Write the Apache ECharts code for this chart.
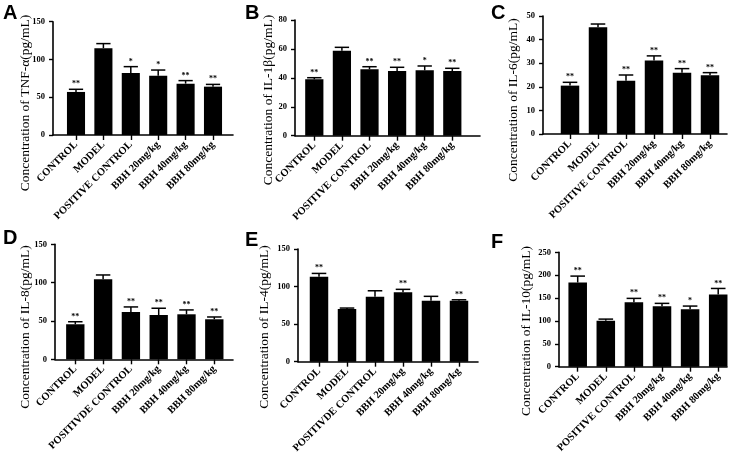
<!DOCTYPE html>
<html><head><meta charset="utf-8">
<script src="https://cdn.jsdelivr.net/npm/echarts@6/dist/echarts.min.js"></script>
<style>html,body{margin:0;padding:0;background:#fff}#c{width:740px;height:462px}</style>
</head><body><div id="c"></div>
<script>
// ---- data ----
const categoriesA = ['CONTROL','MODEL','POSITIVE CONTROL','BBH 20mg/kg','BBH 40mg/kg','BBH 80mg/kg'];
const categoriesB = ['CONTROL','MODEL','POSITIVDE CONTROL','BBH 20mg/kg','BBH 40mg/kg','BBH 80mg/kg'];

const tnfMean = [57, 115, 82, 78.5, 68, 64];
const tnfErr  = [3.5, 6, 8.5, 7.5, 4, 3];
const tnfSig  = ['**', '', '*', '*', '**', '**'];

const il1Mean = [39, 58.8, 45.9, 44.7, 45.2, 44.7];
const il1Err  = [1.1, 2.3, 1.8, 2.6, 3, 1.9];
const il1Sig  = ['**', '', '**', '**', '*', '**'];

const il6Mean = [20.5, 45.2, 22.6, 31.1, 26, 24.9];
const il6Err  = [1.4, 1.4, 2.4, 2, 1.7, 1.1];
const il6Sig  = ['**', '', '**', '**', '**', '**'];

const il8Mean = [45.7, 104.4, 61.7, 57.8, 58.7, 52.2];
const il8Err  = [3.3, 5.6, 6.6, 8.8, 5.7, 3];
const il8Sig  = ['**', '', '**', '**', '**', '**'];

const il4Mean = [113, 70, 86.4, 92.3, 81.1, 81.1];
const il4Err  = [4.5, 1.4, 8, 4, 5.9, 1.3];
const il4Sig  = ['**', '', '', '**', '', '**'];

const il10Mean = [184, 100.4, 140.6, 131.9, 125.3, 158];
const il10Err  = [14, 3.6, 8.7, 6.5, 7.2, 13];
const il10Sig  = ['**', '', '**', '**', '*', '**'];

const yMaxes = [150, 80, 50, 150, 150, 250];
const yIntervals = [50, 20, 10, 50, 50, 50];
const axisTitles = ['Concentration of TNF-\u03b1(pg/mL)','Concentration of IL-1\u03b2(pg/mL)','Concentration of IL-6(pg/mL)',
                    'Concentration of IL-8(pg/mL)','Concentration of IL-4(pg/mL)','Concentration of IL-10(pg/mL)'];
const panelLetters = ['A','B','C','D','E','F'];

// ---- layout ----
const panels = [
  {cats: categoriesA, mean: tnfMean, err: tnfErr, sig: tnfSig, x0: 53, x1: 233, top: 21.7, zero: 135, c0: 76, sp: 27.4, tx: 25, ty: 103, lx: 3, ly: 3},
  {cats: categoriesA, mean: il1Mean, err: il1Err, sig: il1Sig, x0: 295, x1: 480, top: 20, zero: 135.7, c0: 314.3, sp: 27.6, tx: 268, ty: 100, lx: 245, ly: 3},
  {cats: categoriesA, mean: il6Mean, err: il6Err, sig: il6Sig, x0: 543, x1: 727, top: 16, zero: 134, c0: 570, sp: 28, tx: 513, ty: 100, lx: 491, ly: 3},
  {cats: categoriesB, mean: il8Mean, err: il8Err, sig: il8Sig, x0: 55, x1: 233, top: 244.3, zero: 359.3, c0: 75.3, sp: 27.8, tx: 25, ty: 327, lx: 3, ly: 228},
  {cats: categoriesB, mean: il4Mean, err: il4Err, sig: il4Sig, x0: 298, x1: 478, top: 249, zero: 361.7, c0: 319, sp: 28, tx: 264, ty: 327, lx: 245, ly: 230},
  {cats: categoriesA, mean: il10Mean, err: il10Err, sig: il10Sig, x0: 559, x1: 727, top: 252.3, zero: 366.7, c0: 577.7, sp: 28.1, tx: 526, ty: 331, lx: 491, ly: 232}
];

const grid = [], xAxis = [], yAxis = [], series = [], graphic = [];
const serif = 'Liberation Serif';
panels.forEach((p, i) => {
  const h = p.zero - p.top;
  grid.push({left: p.x0, top: p.top, width: p.x1 - p.x0, height: h});
  grid.push({left: p.c0 - p.sp / 2, top: p.top, width: p.sp * 6, height: h});
  const gF = 2 * i, gB = 2 * i + 1;
  xAxis.push({gridIndex: gF, type: 'value', min: 0, max: 1, axisLine: {show: true, onZero: false, lineStyle: {color: '#000', width: 1.6}},
              axisTick: {show: false}, axisLabel: {show: false}, splitLine: {show: false}});
  yAxis.push({gridIndex: gF, type: 'value', min: 0, max: yMaxes[i], interval: yIntervals[i],
              axisLine: {show: true, lineStyle: {color: '#000', width: 1.6}},
              axisTick: {show: true, length: 4, lineStyle: {color: '#000', width: 1.4}},
              axisLabel: {color: '#000', fontFamily: serif, fontWeight: 'bold', fontSize: 8.5, margin: 8},
              splitLine: {show: false}});
  xAxis.push({gridIndex: gB, type: 'category', data: p.cats, boundaryGap: true,
              axisLine: {show: false},
              axisTick: {show: true, alignWithLabel: true, length: 5, lineStyle: {color: '#000', width: 1.4}},
              axisLabel: {interval: 0, rotate: 45, color: '#000', fontFamily: serif, fontWeight: 'bold', fontSize: 10.5, margin: 8}});
  yAxis.push({gridIndex: gB, type: 'value', min: 0, max: yMaxes[i], show: false});
  series.push({type: 'bar', xAxisIndex: gB, yAxisIndex: gB, data: p.mean, barWidth: '66%',
               itemStyle: {color: '#000'}, silent: true, animation: false});
  series.push({type: 'custom', xAxisIndex: gB, yAxisIndex: gB, animation: false, silent: true,
    data: p.mean.map((m, k) => [k, m, p.err[k]]),
    renderItem: (params, api) => {
      const k = api.value(0), m = api.value(1), e = api.value(2);
      const s = p.sig[k];
      const pm = api.coord([k, m]), pt = api.coord([k, m + e]);
      const half = api.size([1, 0])[0] * 0.26;
      const st = {stroke: '#000', lineWidth: 1.5};
      const ch = [
        {type: 'line', shape: {x1: pm[0], y1: pm[1], x2: pt[0], y2: pt[1]}, style: st},
        {type: 'line', shape: {x1: pt[0] - half, y1: pt[1], x2: pt[0] + half, y2: pt[1]}, style: st}
      ];
      if (s) ch.push({type: 'text', style: {text: s, x: pt[0], y: pt[1] - 1, textAlign: 'center', textVerticalAlign: 'bottom',
                     fill: '#000', font: 'bold 8px "Liberation Serif"'}});
      return {type: 'group', children: ch};
    }});
  graphic.push({type: 'text', x: p.tx, y: p.ty, rotation: Math.PI / 2,
    style: {text: axisTitles[i], fill: '#000', font: '13.5px "Liberation Serif"', textAlign: 'center', textVerticalAlign: 'middle'}});
  graphic.push({type: 'text', left: p.lx, top: p.ly,
    style: {text: panelLetters[i], fill: '#000', font: 'bold 20px "Liberation Sans"'}});
});

const chart = echarts.init(document.getElementById('c'), null, {renderer: 'canvas'});
chart.setOption({animation: false, grid, xAxis, yAxis, series, graphic});
</script></body></html>
